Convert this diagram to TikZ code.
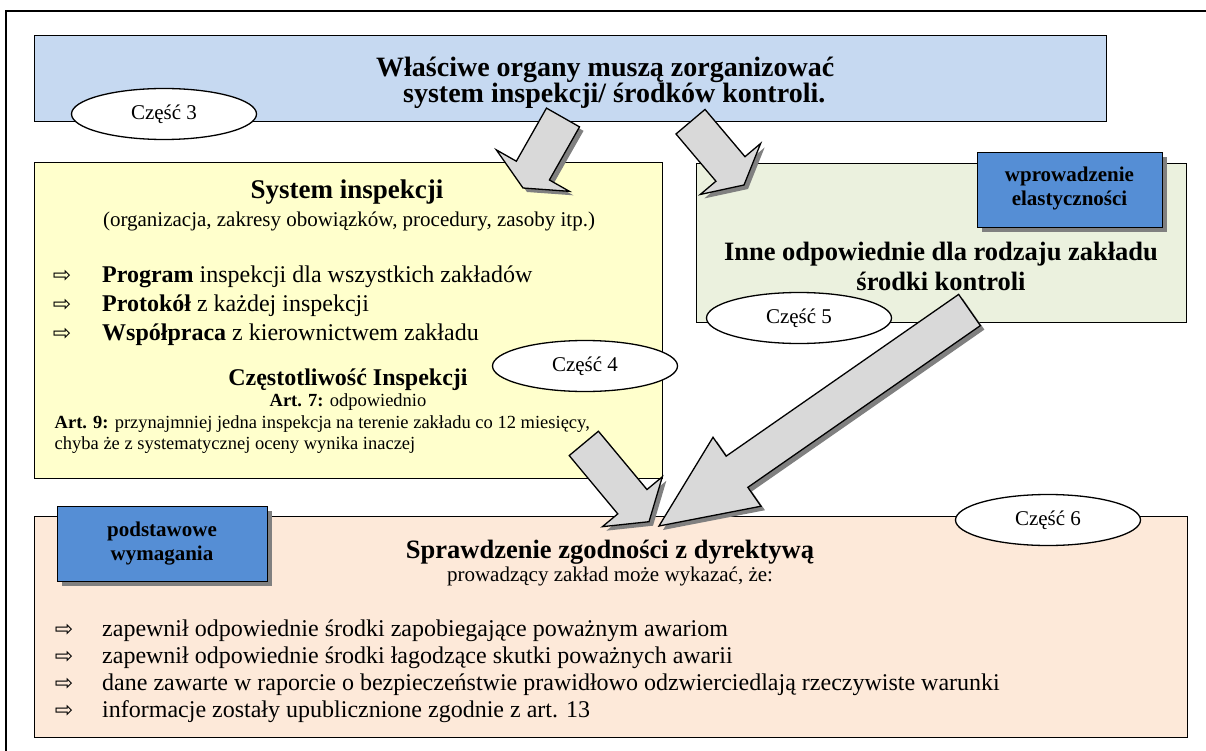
\documentclass[tikz,border=0pt]{standalone}
\usepackage{fontspec}
\setmainfont{Liberation Serif}
\newfontfamily\symfont{DejaVu Sans}
\usetikzlibrary{calc,shapes.geometric,shadows}
\definecolor{topblue}{RGB}{198,217,241}
\definecolor{yel}{RGB}{255,255,204}
\definecolor{grn}{RGB}{235,241,222}
\definecolor{pnk}{RGB}{253,233,217}
\definecolor{dblue}{RGB}{85,142,213}
\definecolor{arrgray}{RGB}{217,217,217}
\definecolor{shd}{RGB}{128,128,128}
\newcommand\fs[1]{\fontsize{#1}{#1}\selectfont}
\newcommand\arrowpath[5]{($(#1)!#4!90:(#2)$) -- ($(#3)!#4!90:(#2)$) -- ($(#3)!#5!90:(#2)$) -- (#2) -- ($(#3)!#5!-90:(#2)$) -- ($(#3)!#4!-90:(#2)$) -- ($(#1)!#4!-90:(#2)$) -- cycle}
\newcommand\blockarrow[6]{%
  \coordinate (#1t) at (#2);
  \coordinate (#1p) at (#3);
  \coordinate (#1q) at ($(#1p)!#6!(#1t)$);
  \coordinate (#1ts) at ($(#1t)+(4,4)$);
  \coordinate (#1ps) at ($(#1p)+(4,4)$);
  \coordinate (#1qs) at ($(#1q)+(4,4)$);
  \fill[shd] \arrowpath{#1ts}{#1ps}{#1qs}{#4}{#5};
  \draw[line width=1.3pt, fill=arrgray, line join=miter] \arrowpath{#1t}{#1p}{#1q}{#4}{#5};
}
\begin{document}
\begin{tikzpicture}[x=1pt,y=-1pt,
  box/.style={draw, line width=1.4pt, anchor=north west, inner sep=0pt},
  tagbox/.style={draw, line width=1.4pt, fill=dblue, anchor=north west, inner sep=0pt,
     minimum width=185pt, minimum height=75pt,
     drop shadow={shadow xshift=4.5pt, shadow yshift=-4.5pt, fill=shd, opacity=1}},
  part/.style={ellipse, draw, line width=1.3pt, fill=white, minimum width=185pt, minimum height=51pt, inner sep=0pt, font=\fs{21}},
  txt/.style={inner sep=0pt, anchor=base},
  txtl/.style={inner sep=0pt, anchor=base west},
  bul/.style={inner sep=0pt, anchor=base, font=\symfont\fs{22}}]
\useasboundingbox (0,0) rectangle (1206,751);
\fill[white] (0,0) rectangle (1206,751);
% outer frame
\coordinate (fr1) at (6,751);
\coordinate (fr2) at (6,11);
\coordinate (fr3) at (1206,11);
\draw[line width=1.5pt] (fr1) -- (fr2) -- (fr3);
% boxes
\node[box, fill=topblue, minimum width=1072pt, minimum height=86pt] (top) at (34,35) {};
\node[box, fill=yel, minimum width=628pt, minimum height=316pt] (ins) at (34,162) {};
\node[box, fill=grn, minimum width=490pt, minimum height=159pt] (oth) at (696,163) {};
\node[box, fill=pnk, minimum width=1153pt, minimum height=221pt] (chk) at (34,516) {};
% top text
\node[txtl, font=\bfseries\fs{28}] (tt1) at (376,77) {Właściwe organy muszą zorganizować};
\node[txtl, font=\bfseries\fs{28}] (tt2) at (403,103) {system inspekcji/ środków kontroli.};
% yellow box text
\node[txt, font=\bfseries\fs{27}] (y1) at (347,199) {System inspekcji};
\node[txt, font=\fs{21}] (y2) at (349,226) {(organizacja, zakresy obowiązków, procedury, zasoby itp.)};
\node[bul] (yb1) at (62,282) {⇨};
\node[bul] (yb2) at (62,311.5) {⇨};
\node[bul] (yb3) at (62,340) {⇨};
\node[txtl, font=\fs{24}] (y3) at (102,282) {\textbf{Program} inspekcji dla wszystkich zakładów};
\node[txtl, font=\fs{24}] (y4) at (102,311.5) {\textbf{Protokół} z każdej inspekcji};
\node[txtl, font=\fs{24}] (y5) at (102,340) {\textbf{Współpraca} z kierownictwem zakładu};
\node[txt, font=\bfseries\fs{24}] (y6) at (348,385) {Częstotliwość Inspekcji};
\node[txt, font=\fs{18.5}] (y7) at (348,406.5) {\textbf{Art. 7:} odpowiednio};
\node[txtl, font=\fs{18.5}] (y8) at (54.5,428) {\textbf{Art. 9:} przynajmniej jedna inspekcja na terenie zakładu co 12 miesięcy,};
\node[txtl, font=\fs{18.5}] (y9) at (54.5,449) {chyba że z systematycznej oceny wynika inaczej};
% green box text
\node[txt, font=\bfseries\fs{26.5}] (g1) at (941,260.5) {Inne odpowiednie dla rodzaju zakładu};
\node[txt, font=\bfseries\fs{26.5}] (g2) at (941,290) {środki kontroli};
% pink box text
\node[txt, font=\bfseries\fs{26.5}] (p1) at (610,558) {Sprawdzenie zgodności z dyrektywą};
\node[txt, font=\fs{21}] (p2) at (610,581) {prowadzący zakład może wykazać, że:};
\node[bul] (pb1) at (64,636) {⇨};
\node[bul] (pb2) at (64,663) {⇨};
\node[bul] (pb3) at (64,690) {⇨};
\node[bul] (pb4) at (64,717.5) {⇨};
\node[txtl, font=\fs{24}] (p3) at (102,636) {zapewnił odpowiednie środki zapobiegające poważnym awariom};
\node[txtl, font=\fs{24}] (p4) at (102,663) {zapewnił odpowiednie środki łagodzące skutki poważnych awarii};
\node[txtl, font=\fs{24}] (p5) at (102,690) {dane zawarte w raporcie o bezpieczeństwie prawidłowo odzwierciedlają rzeczywiste warunki};
\node[txtl, font=\fs{24}] (p6) at (102,717.5) {informacje zostały upublicznione zgodnie z art. 13};
% tag boxes
\node[tagbox] (wp) at (977,152) {};
\node[txt, font=\bfseries\fs{21}] (wp1) at (1069.5,181.5) {wprowadzenie};
\node[txt, font=\bfseries\fs{21}] (wp2) at (1069.5,206) {elastyczności};
\node[tagbox, minimum width=210pt] (pw) at (57,506) {};
\node[txt, font=\bfseries\fs{21}] (pw1) at (162,536) {podstawowe};
\node[txt, font=\bfseries\fs{21}] (pw2) at (162,560.5) {wymagania};
% part ellipses
\node[part] (c3) at (164,114) {Część 3};
\node[part] (c4) at (585,366) {Część 4};
\node[part] (c5) at (799,318) {Część 5};
\node[part] (c6) at (1048,520) {Część 6};
% block arrows
\blockarrow{a1}{563,117.5}{523,188}{19pt}{42pt}{20pt}
\blockarrow{a2}{690.5,121.7}{744,185}{19pt}{39.5pt}{21pt}
\blockarrow{a3}{583.8,443.4}{649,521.7}{19pt}{39pt}{26pt}
\blockarrow{a4}{969.5,310}{659,526}{19pt}{42pt}{95pt}
\end{tikzpicture}
\end{document}
